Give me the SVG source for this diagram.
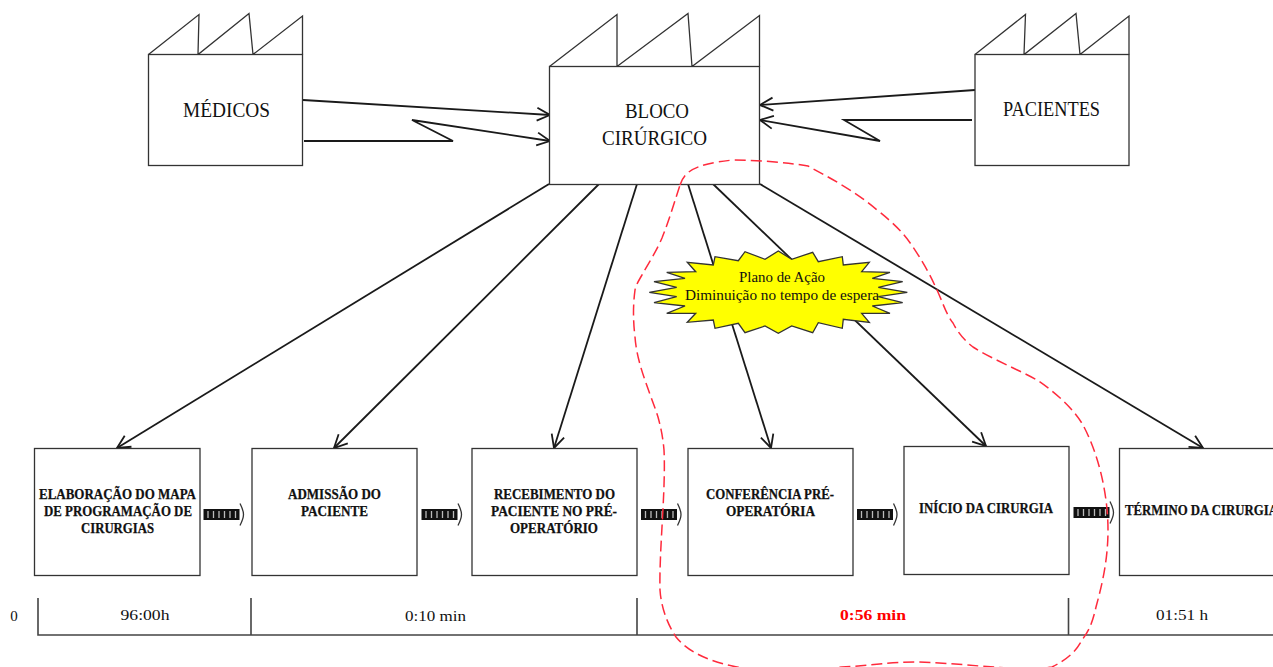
<svg xmlns="http://www.w3.org/2000/svg" xmlns:xlink="http://www.w3.org/1999/xlink" width="1273" height="667" viewBox="0 0 1273 667">
<style>
text{font-family:"Liberation Serif","Times New Roman",serif;fill:#111;text-anchor:middle}
.box{fill:#fff;stroke:#333;stroke-width:1.3}
.roof{fill:none;stroke:#333;stroke-width:1.3;stroke-linejoin:miter}
.con{fill:none;stroke:#1a1a1a;stroke-width:1.8;marker-end:url(#open)}
.big{font-size:20px}
.lab{font-size:14.5px;font-weight:bold;stroke:#111;stroke-width:.25}
.time{font-size:15px}
.axis{fill:none;stroke:#444;stroke-width:1.6}
</style>
<defs>
<marker id="open" markerUnits="userSpaceOnUse" markerWidth="18" markerHeight="18" refX="15" refY="9" orient="auto"><path d="M2,2.500L15,9L2,15.500" fill="none" stroke="#1a1a1a" stroke-width="1.8"/></marker>
<g id="stripe">
<rect x="0" y="-5.500" width="36" height="11" fill="#111"/>
<path d="M4.500,-3.500V3.500M10,-3.500V3.500M15.500,-3.500V3.500M21,-3.500V3.500M26.500,-3.500V3.500M32,-3.500V3.500" stroke="#bbb" stroke-width="1.3"/>
<path d="M36.500,-11Q40,-4 40,0Q40,4 36.500,11" fill="none" stroke="#333" stroke-width="1.3"/>
</g>
</defs>

<g id="connectors">
<path class="con" d="M303,100L550,115"/>
<path class="con" d="M304,141H453L412,120L550,141"/>
<path class="con" d="M975,90L760,105"/>
<path class="con" d="M972,120H844L880,141L760,120"/>
<path class="con" d="M549,184L117,448"/>
<path class="con" d="M599,184L334,448"/>
<path class="con" d="M637,184L554,448"/>
<path class="con" d="M688,184L771,448"/>
<path class="con" d="M713,184L986,446"/>
<path class="con" d="M760,184L1203,448"/>
</g>

<g id="medicos">
<path class="roof" d="M148.500,54.500L199,14.500L198,54.500L249,13.500L253,54.500L302.500,16V54.500"/>
<rect class="box" x="148.500" y="54.500" width="154" height="111"/>
<text class="big" x="226.500" y="117" textLength="87" lengthAdjust="spacingAndGlyphs">MÉDICOS</text>
</g>
<g id="bloco">
<path class="roof" d="M549.500,66.500L617,14.500V66.500L688,13.500L692,66.500L759.500,15.500V66.500"/>
<rect class="box" x="549.500" y="66.500" width="210" height="118"/>
<text class="big" x="657" y="118" textLength="64" lengthAdjust="spacingAndGlyphs">BLOCO</text>
<text class="big" x="654.500" y="145" textLength="105" lengthAdjust="spacingAndGlyphs">CIRÚRGICO</text>
</g>
<g id="pacientes">
<path class="roof" d="M975,54.500L1025.500,14.500L1024,54.500L1076,13.500L1080,54.500L1129,16V54.500"/>
<rect class="box" x="975" y="54.500" width="154" height="111"/>
<text class="big" x="1051.500" y="116" textLength="97" lengthAdjust="spacingAndGlyphs">PACIENTES</text>
</g>

<g id="plano">
<polygon fill="#ffff00" stroke="#333" stroke-width="1.3" points="649.300,292.300 676.700,287.300 654,281.700 685,278.300 666.700,272.300 695.700,271.700 687.300,262.300 713.300,265 715,256.700 738.300,260.700 745,251.700 765,259.300 778.300,251 791.700,259.300 812.700,252.300 818.300,261.700 842.300,256.700 843.300,265 869.300,262.300 861.700,271.700 890,272.300 872.300,278.300 902.700,281.700 878.300,287.300 907.300,292.300 878.300,296.700 902.700,302.700 872.300,306 890,313.300 861.700,313.300 869.300,322.300 843.300,319.300 842.300,328.300 818.300,322.700 812.700,332.700 791.700,326 778.300,333.300 765,326 745,332.700 738.300,323.300 715,328.300 713.300,320 687.300,322.300 695.700,313.300 666.700,313.300 685,306 654,302.700 676.700,296.700"/>
<text x="782" y="282" font-size="14" textLength="86" lengthAdjust="spacingAndGlyphs">Plano de Ação</text>
<text x="782" y="300" font-size="14" textLength="194" lengthAdjust="spacingAndGlyphs">Diminuição no tempo de espera</text>
</g>

<g id="elaboracao">
<rect class="box" x="34.500" y="448.500" width="165.500" height="127"/>
<text class="lab" x="117.500" y="499" textLength="157" lengthAdjust="spacingAndGlyphs">ELABORAÇÃO DO MAPA</text>
<text class="lab" x="118" y="516" textLength="148" lengthAdjust="spacingAndGlyphs">DE PROGRAMAÇÃO DE</text>
<text class="lab" x="117.500" y="533" textLength="73" lengthAdjust="spacingAndGlyphs">CIRURGIAS</text>
</g>
<g id="admissao">
<rect class="box" x="252" y="448.500" width="165" height="127"/>
<text class="lab" x="334.500" y="499" textLength="93" lengthAdjust="spacingAndGlyphs">ADMISSÃO DO</text>
<text class="lab" x="334.500" y="516" textLength="67" lengthAdjust="spacingAndGlyphs">PACIENTE</text>
</g>
<g id="recebimento">
<rect class="box" x="472" y="448.500" width="165" height="127"/>
<text class="lab" x="554.500" y="499" textLength="121" lengthAdjust="spacingAndGlyphs">RECEBIMENTO DO</text>
<text class="lab" x="554" y="516" textLength="126" lengthAdjust="spacingAndGlyphs">PACIENTE NO PRÉ-</text>
<text class="lab" x="554" y="533" textLength="88" lengthAdjust="spacingAndGlyphs">OPERATÓRIO</text>
</g>
<g id="conferencia">
<rect class="box" x="688" y="448.500" width="165" height="127"/>
<text class="lab" x="770" y="499" textLength="128" lengthAdjust="spacingAndGlyphs">CONFERÊNCIA PRÉ-</text>
<text class="lab" x="770.500" y="516" textLength="89" lengthAdjust="spacingAndGlyphs">OPERATÓRIA</text>
</g>
<g id="inicio">
<rect class="box" x="904" y="446.500" width="165" height="128"/>
<text class="lab" x="986" y="513" textLength="134" lengthAdjust="spacingAndGlyphs">INÍCIO DA CIRURGIA</text>
</g>
<g id="termino">
<rect class="box" x="1119.500" y="448.500" width="165" height="127"/>
<text class="lab" x="1201.500" y="515" textLength="153" lengthAdjust="spacingAndGlyphs">TÉRMINO DA CIRURGIA</text>
</g>

<g id="flows">
<use xlink:href="#stripe" href="#stripe" x="203.500" y="514.500"/>
<use xlink:href="#stripe" href="#stripe" x="421.500" y="514.500"/>
<use xlink:href="#stripe" href="#stripe" x="641" y="514.500"/>
<use xlink:href="#stripe" href="#stripe" x="857" y="514.500"/>
<use xlink:href="#stripe" href="#stripe" x="1073.500" y="512.500"/>
</g>

<g id="timeline">
<path class="axis" d="M38,598V635H1273M251,598V635M637,598V635M1068.500,598V635"/>
<text class="time" x="14" y="621">0</text>
<text class="time" x="145" y="620" textLength="49" lengthAdjust="spacingAndGlyphs">96:00h</text>
<text class="time" x="435.500" y="621" textLength="61" lengthAdjust="spacingAndGlyphs">0:10 min</text>
<text class="time" x="873" y="620" textLength="66" lengthAdjust="spacingAndGlyphs" font-weight="bold" style="fill:#ff0000">0:56 min</text>
<text class="time" x="1182" y="620" textLength="52" lengthAdjust="spacingAndGlyphs">01:51 h</text>
</g>

<path id="zone" fill="none" stroke="#ff2a3c" stroke-width="1.5" stroke-dasharray="11 5" d="M680,185C684,172 694,164 733,160C760,160 790,163 808,166C830,178 855,191 877,210C895,224 905,235 913,247C925,265 931,277 937,290C943,303 946,314 953,323C958,333 965,341 973,347C990,358 1015,368 1037,380C1055,392 1073,408 1083,425C1099,455 1108,495 1108,530C1108,560 1102,585 1096,607C1092,625 1088,632 1082,640C1076,652 1066,660 1052,667C1020,672 975,664 918,662C890,662 865,666 842,667C800,672 765,672 737,667C710,662 688,652 676,637C666,622 661,605 660,590C659,550 666,490 664,450C663,438 661,428 658,417C650,392 637,365 635,337C633,320 633,305 635,290C636,285 639,280 642,275C648,264 656,252 662,238C670,218 675,200 680,185Z"/>
</svg>
